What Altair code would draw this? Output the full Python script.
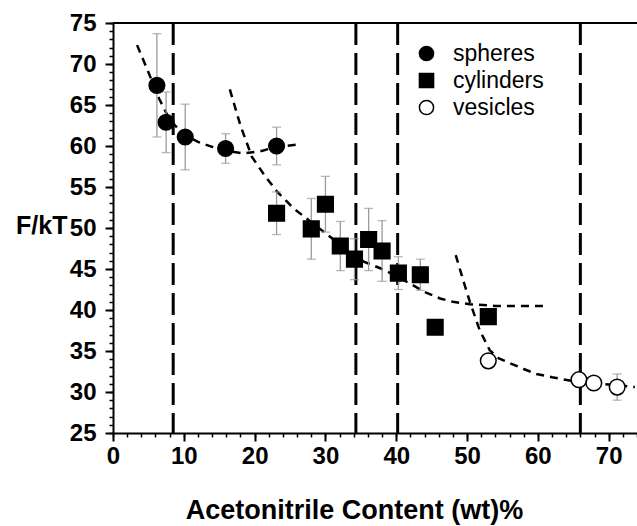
import altair as alt
import pandas as pd

# ---- data ----
sph_x = [6.2, 7.5, 10.2, 15.9, 23.1]
sph_y = [67.4, 62.9, 61.1, 59.7, 60.0]
sph_e = [6.3, 3.7, 4.0, 1.8, 2.3]

cyl_x = [23.1, 28.0, 30.0, 32.1, 34.1, 36.1, 38.0, 40.3, 43.4, 45.5, 53.0]
cyl_y = [51.8, 49.9, 52.9, 47.8, 46.2, 48.6, 47.2, 44.5, 44.3, 37.9, 39.2]
cyl_e = [2.6, 3.7, 3.4, 3.0, 2.5, 3.8, 3.7, 2.0, 1.9, 0.8, 0.8]

ves_x = [53.0, 65.8, 67.9, 71.2]
ves_y = [33.8, 31.5, 31.1, 30.6]
ves_e = [0.5, 0.8, 0.5, 1.6]

boundaries = [8.5, 34.3, 40.2, 66.0]

fit1_x = [3.4, 5.0, 6.5, 8.0, 10.0, 12.0, 14.0, 16.0, 18.4, 21.0, 23.1, 26.4]
fit1_y = [72.3, 69.0, 65.8, 63.2, 61.4, 60.5, 59.9, 59.4, 59.1, 59.4, 59.9, 60.2]

fit2_x = [16.5, 18.0, 19.6, 21.5, 23.2, 25.5, 28.0, 30.7, 33.0, 35.4, 38.0, 40.3,
          42.4, 44.0, 46.2, 48.0, 50.4, 54.0, 58.0, 61.5]
fit2_y = [66.9, 62.5, 58.7, 56.3, 54.4, 52.4, 50.7, 48.9, 47.3, 45.9, 45.0, 44.0,
          43.0, 42.2, 41.4, 41.0, 40.7, 40.5, 40.5, 40.5]

fit3_x = [48.4, 49.5, 50.4, 51.8, 53.2, 54.5, 56.1, 58.0, 59.8, 62.0, 64.5, 67.0, 70.0, 73.7]
fit3_y = [46.7, 43.5, 41.0, 37.5, 35.1, 34.1, 33.5, 32.8, 32.2, 31.8, 31.4, 31.1, 30.9, 30.6]

types = ["spheres", "cylinders", "vesicles"]
x_major = [0, 10, 20, 30, 40, 50, 60, 70]
y_major = [25, 30, 35, 40, 45, 50, 55, 60, 65, 70, 75]

# ---- tables ----
rows = []
for t, xs_, ys_, es_ in [("spheres", sph_x, sph_y, sph_e),
                         ("cylinders", cyl_x, cyl_y, cyl_e),
                         ("vesicles", ves_x, ves_y, ves_e)]:
    for a, b, e in zip(xs_, ys_, es_):
        rows.append({"x": a, "y": b, "lo": b - e, "hi": b + e, "type": t})
pts = pd.DataFrame(rows)

fits = []
for k, (xs_, ys_) in enumerate([(fit1_x, fit1_y), (fit2_x, fit2_y), (fit3_x, fit3_y)]):
    for i, (a, b) in enumerate(zip(xs_, ys_)):
        fits.append({"x": a, "y": b, "curve": k, "i": i})
fits = pd.DataFrame(fits)

bnd = pd.DataFrame({"x": boundaries})

FONT = "Liberation Sans"
xs = alt.Scale(domain=[0, 74], nice=False, zero=False)
ys = alt.Scale(domain=[25, 75], nice=False, zero=False)

x_axis = alt.Axis(values=x_major, orient="bottom", tickSize=8, tickWidth=2, tickColor="black",
                  domainColor="black", domainWidth=2, labelFont=FONT, labelFontSize=24,
                  labelFontWeight="bold", labelColor="black", labelPadding=3, grid=False,
                  title="Acetonitrile Content (wt)%", titleFont=FONT, titleFontSize=27,
                  titleFontWeight="bold", titleColor="black", titleX=241, titleY=85,
                  titleAlign="center", titleBaseline="alphabetic", labelFlush=False)
y_axis = alt.Axis(values=y_major, orient="left", tickSize=8, tickWidth=2, tickColor="black",
                  domainColor="black", domainWidth=2, labelFont=FONT, labelFontSize=24,
                  labelFontWeight="bold", labelColor="black", labelPadding=9, grid=False,
                  title="F/kT", titleFont=FONT, titleFontSize=25, titleFontWeight="bold",
                  titleColor="black", titleAngle=0, titleX=-46, titleY=202,
                  titleAlign="right", titleBaseline="middle", labelFlush=False)
x_minor = alt.Axis(values=list(range(0, 75, 2)), orient="bottom", tickSize=4, tickWidth=1.5,
                   tickColor="black", domain=False, labels=False, title=None, grid=False)
y_minor = alt.Axis(values=list(range(25, 76)), orient="left", tickSize=4, tickWidth=1.5,
                   tickColor="black", domain=False, labels=False, title=None, grid=False)

vlines = alt.Chart(bnd).mark_rule(color="black", strokeWidth=3, strokeDash=[22, 8]).encode(
    x=alt.X("x:Q", scale=xs, axis=x_minor),
    y=alt.Y(datum=75, scale=ys, axis=y_minor),
    y2=alt.Y2(datum=25),
)

top = alt.Chart(bnd).mark_rule(color="black", strokeWidth=2).encode(
    y=alt.Y(datum=75, scale=ys, axis=None),
)

curves = alt.Chart(fits).mark_line(color="black", strokeWidth=2.5, strokeDash=[8, 6]).encode(
    x=alt.X("x:Q", scale=xs, axis=None),
    y=alt.Y("y:Q", scale=ys, axis=None),
    detail="curve:N",
    order="i:Q",
)

ebar = alt.Chart(pts).mark_rule(color="#9a9a9a", strokeWidth=1.3).encode(
    x=alt.X("x:Q", scale=xs, axis=None),
    y=alt.Y("lo:Q", scale=ys, axis=None),
    y2="hi:Q",
)
cap_lo = alt.Chart(pts).mark_tick(color="#9a9a9a", thickness=1.3, size=9, orient="horizontal").encode(
    x=alt.X("x:Q", scale=xs, axis=None),
    y=alt.Y("lo:Q", scale=ys, axis=None),
)
cap_hi = alt.Chart(pts).mark_tick(color="#9a9a9a", thickness=1.3, size=9, orient="horizontal").encode(
    x=alt.X("x:Q", scale=xs, axis=None),
    y=alt.Y("hi:Q", scale=ys, axis=None),
)


def leg():
    return alt.Legend(title=None, orient="none", legendX=302, legendY=19,
                      labelFont=FONT, labelFontSize=23, labelColor="black",
                      symbolSize=200, symbolStrokeWidth=1.5, labelOffset=15,
                      rowPadding=3, padding=0)


points = alt.Chart(pts).mark_point(strokeWidth=1.5, opacity=1, fillOpacity=1,
                                   strokeOpacity=1, size=245).encode(
    x=alt.X("x:Q", scale=xs, axis=x_axis),
    y=alt.Y("y:Q", scale=ys, axis=y_axis),
    shape=alt.Shape("type:N", scale=alt.Scale(domain=types, range=["circle", "square", "circle"]),
                    legend=leg()),
    fill=alt.Fill("type:N", scale=alt.Scale(domain=types, range=["black", "black", "white"]),
                  legend=leg()),
    stroke=alt.Stroke("type:N", scale=alt.Scale(domain=types, range=["black", "black", "black"]),
                      legend=leg()),
)

chart = alt.layer(vlines, top, curves, ebar, cap_lo, cap_hi, points).resolve_axis(
    x="independent", y="independent"
).properties(
    width=524, height=410,
    autosize=alt.AutoSizeParams(type="none"),
    padding={"left": 113, "top": 23, "right": 0, "bottom": 93},
    background="white",
).configure_view(stroke=None)

chart.save("out.html", embed_options={"renderer": "svg", "actions": False})
